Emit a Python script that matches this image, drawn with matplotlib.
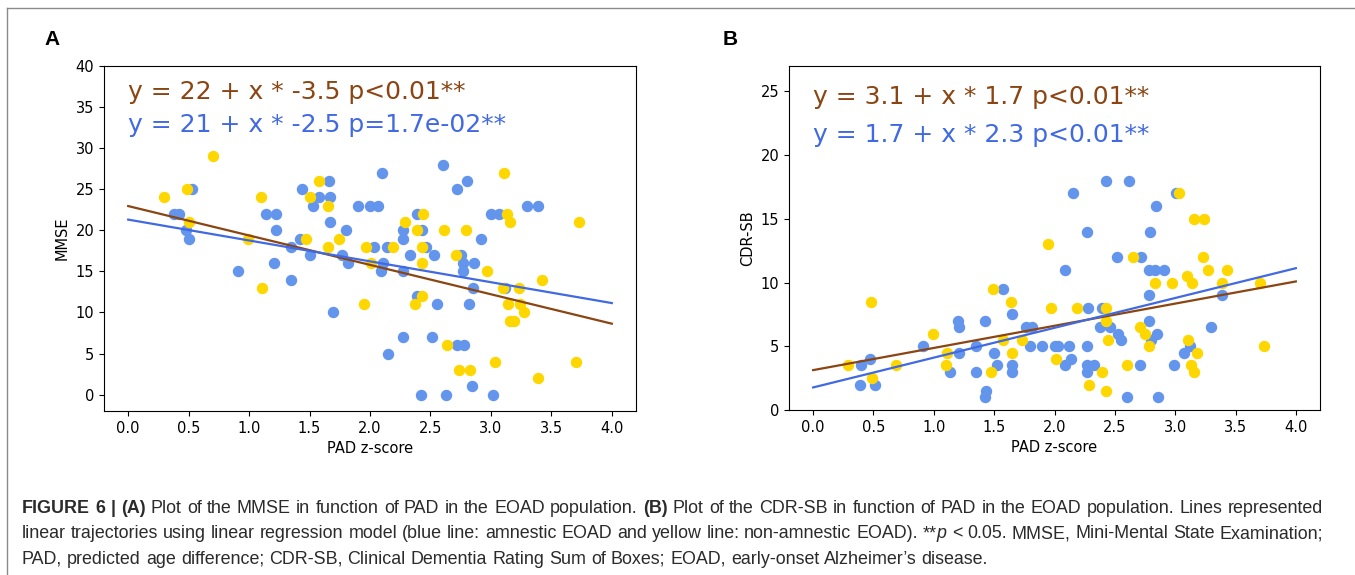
import math
import re
import numpy as np
import matplotlib
matplotlib.use('Agg')
import matplotlib.pyplot as plt
from matplotlib import font_manager
from matplotlib.lines import Line2D

# panel A: PAD z-score vs MMSE
a_amn_x = [0.38, 0.42, 0.53, 0.48, 0.50, 1.14, 1.22, 1.22, 1.21, 0.91, 1.35, 1.35, 1.42, 1.44,
           1.50, 1.53, 1.58, 1.66, 1.67, 1.67, 1.69, 1.77, 1.80, 1.82, 1.90, 2.00, 2.07, 2.03,
           2.14, 2.10, 2.11, 2.09, 2.15, 2.27, 2.27, 2.27, 2.27, 2.33, 2.39, 2.43, 2.39, 2.46,
           2.42, 2.51, 2.53, 2.55, 2.60, 2.63, 2.72, 2.80, 2.75, 2.77, 2.86, 2.77, 2.72, 2.78,
           2.82, 2.85, 2.84, 2.92, 3.00, 3.07, 3.12, 3.02, 3.30, 3.39]
a_amn_y = [22, 22, 25, 20, 19, 22, 22, 20, 16, 15, 14, 18, 19, 25,
           17, 23, 24, 26, 24, 21, 10, 17, 20, 16, 23, 23, 23, 18,
           18, 27, 16, 15, 5, 20, 19, 15, 7, 17, 22, 20, 12, 18,
           0, 7, 17, 11, 28, 0, 25, 26, 17, 16, 16, 15, 6, 6,
           11, 13, 1, 19, 22, 22, 13, 0, 23, 23]
a_non_x = [0.30, 0.49, 0.70, 0.50, 0.99, 1.10, 1.11, 1.47, 1.50, 1.58, 1.65, 1.65, 1.74, 1.95,
           1.97, 2.01, 2.19, 2.29, 2.37, 2.39, 2.44, 2.43, 2.43, 2.43, 2.61, 2.64, 2.71, 2.74,
           2.79, 2.83, 2.97, 3.03, 3.11, 3.10, 3.13, 3.14, 3.16, 3.16, 3.19, 3.23, 3.24, 3.27,
           3.39, 3.42, 3.70, 3.73]
a_non_y = [24, 25, 29, 21, 19, 24, 13, 19, 24, 26, 23, 18, 19, 11,
           18, 16, 18, 21, 11, 20, 22, 18, 16, 12, 20, 6, 17, 3,
           20, 3, 15, 4, 27, 13, 22, 11, 21, 9, 9, 13, 11, 10,
           2, 14, 4, 21]

# panel B: PAD z-score vs CDR-SB
b_amn_x = [0.40, 0.47, 0.39, 0.51, 0.91, 1.13, 1.20, 1.21, 1.21, 1.35, 1.35, 1.42, 1.43, 1.42,
           1.57, 1.50, 1.52, 1.65, 1.65, 1.65, 1.76, 1.81, 1.80, 1.90, 2.00, 2.03, 2.12, 2.14,
           2.09, 2.09, 2.15, 2.27, 2.27, 2.28, 2.27, 2.33, 2.27, 2.38, 2.46, 2.39, 2.43, 2.62,
           2.52, 2.53, 2.55, 2.60, 2.71, 2.72, 2.78, 2.83, 2.91, 2.79, 2.84, 2.78, 2.78, 2.85,
           2.80, 2.86, 2.99, 3.01, 3.07, 3.12, 3.30, 3.39]
b_amn_y = [3.5, 4.0, 2.0, 2.0, 5.0, 3.0, 7.0, 6.5, 4.5, 5.0, 3.0, 7.0, 1.5, 1.0,
           9.5, 4.5, 3.5, 7.5, 3.5, 3.0, 6.5, 6.5, 5.0, 5.0, 5.0, 5.0, 5.0, 4.0,
           3.5, 11.0, 17.0, 14.0, 5.0, 8.0, 3.5, 3.5, 3.0, 6.5, 6.5, 8.0, 18.0, 18.0,
           12.0, 6.0, 5.5, 1.0, 3.5, 12.0, 11.0, 11.0, 11.0, 14.0, 16.0, 9.0, 7.0, 6.0,
           5.5, 1.0, 3.5, 17.0, 4.5, 5.0, 6.5, 9.0]
b_non_x = [0.29, 0.49, 0.48, 0.69, 0.99, 1.11, 1.10, 1.47, 1.49, 1.57, 1.64, 1.65, 1.73, 1.95,
           1.97, 2.01, 2.19, 2.29, 2.39, 2.43, 2.43, 2.44, 2.43, 2.60, 2.65, 2.71, 2.75, 2.78,
           2.83, 2.97, 3.03, 3.10, 3.14, 3.11, 3.18, 3.13, 3.16, 3.16, 3.24, 3.23, 3.27, 3.43,
           3.39, 3.70, 3.74]
b_non_y = [3.5, 2.5, 8.5, 3.5, 6.0, 4.5, 3.5, 3.0, 9.5, 5.5, 8.5, 4.5, 5.5, 13.0,
           8.0, 4.0, 8.0, 2.0, 3.0, 8.0, 7.0, 5.5, 1.5, 3.5, 12.0, 6.5, 6.0, 5.0,
           10.0, 10.0, 17.0, 10.5, 10.0, 5.5, 4.5, 3.5, 3.0, 15.0, 15.0, 12.0, 11.0, 11.0,
           10.0, 10.0, 5.0]

# linear fits (intercept, slope) and p-value text
fit_a_non = (22.95, -3.58)
fit_a_amn = (21.3, -2.54)
fit_b_non = (3.13, 1.74)
fit_b_amn = (1.77, 2.34)
p_a_non = 'p<0.01**'
p_a_amn = 'p=1.7e-02**'
p_b_non = 'p<0.01**'
p_b_amn = 'p<0.01**'

caption = [
    '[b]FIGURE 6 | (A)[/b] Plot of the MMSE in function of PAD in the EOAD population. '
    '[b](B)[/b] Plot of the CDR-SB in function of PAD in the EOAD population. Lines represented',
    'linear trajectories using linear regression model (blue line: amnestic EOAD and yellow line: '
    'non-amnestic EOAD). **[i]p[/i] < 0.05. MMSE, Mini-Mental State Examination;',
    'PAD, predicted age difference; CDR-SB, Clinical Dementia Rating Sum of Boxes; EOAD, '
    'early-onset Alzheimer\u2019s disease.',
]

W, H = 1355, 575


def trunc2(v):
    # two significant digits, cut rather than rounded
    d = 1 - int(math.floor(math.log10(abs(v))))
    f = 10 ** d
    return f"{int(v * f) / f:g}"


def panel(ax, amn_x, amn_y, non_x, non_y, fit_non, fit_amn, p_non, p_amn, ylabel, ylim, yticks, text_y):
    ax.scatter(amn_x, amn_y, s=52, color='cornflowerblue')
    ax.scatter(non_x, non_y, s=52, color='gold')
    xs = np.array([0.0, 4.0])
    ax.plot(xs, fit_non[0] + fit_non[1] * xs, color='saddlebrown', lw=1.6)
    ax.plot(xs, fit_amn[0] + fit_amn[1] * xs, color='royalblue', lw=1.6)
    ax.text(0, text_y[0], f"y = {trunc2(fit_non[0])} + x * {trunc2(fit_non[1])} {p_non}",
            color='saddlebrown', fontsize=18)
    ax.text(0, text_y[1], f"y = {trunc2(fit_amn[0])} + x * {trunc2(fit_amn[1])} {p_amn}",
            color='royalblue', fontsize=18)
    ax.set_xlim(-0.2, 4.2)
    ax.set_ylim(ylim)
    ax.set_xticks(np.arange(0, 4.01, 0.5))
    ax.set_yticks(yticks)
    ax.tick_params(labelsize=10.5)
    ax.set_xlabel('PAD z-score', fontsize=10.5)
    ax.set_ylabel(ylabel, fontsize=10.5)


fig = plt.figure(figsize=(W / 100, H / 100), dpi=100)
ax_a = fig.add_axes([104 / W, 1 - 411 / H, 532 / W, 345 / H])
ax_b = fig.add_axes([789 / W, 1 - 410 / H, 531 / W, 344 / H])

panel(ax_a, a_amn_x, a_amn_y, a_non_x, a_non_y, fit_a_non, fit_a_amn, p_a_non, p_a_amn,
      'MMSE', (-2, 40), range(0, 41, 5), (36, 32))
panel(ax_b, b_amn_x, b_amn_y, b_non_x, b_non_y, fit_b_non, fit_b_amn, p_b_non, p_b_amn,
      'CDR-SB', (0, 27), range(0, 26, 5), (24, 21))

fig.text(44 / W, 1 - 45 / H, 'A', fontsize=15, fontweight='bold', family='Liberation Sans')
fig.text(723 / W, 1 - 45 / H, 'B', fontsize=15, fontweight='bold', family='Liberation Sans')

# page frame
fig.add_artist(Line2D([7 / W, 7 / W], [0, 1 - 8 / H], transform=fig.transFigure, color='#8a8a8a', lw=1))
fig.add_artist(Line2D([7 / W, 1], [1 - 8 / H, 1 - 8 / H], transform=fig.transFigure, color='#8a8a8a', lw=1))

# caption, justified like a journal page
try:
    font_manager.findfont(font_manager.FontProperties(family='Liberation Sans Narrow'),
                          fallback_to_default=False)
    cap_family = 'Liberation Sans Narrow'
except ValueError:
    cap_family = 'Liberation Sans'

styles = {'r': dict(), 'b': dict(fontweight='bold'), 'i': dict(fontstyle='italic')}


def words_of(markup):
    words = [[]]
    for m in re.finditer(r'\[(b|i)\](.*?)\[/\1\]|([^\[]+)', markup):
        style = m.group(1) or 'r'
        text = m.group(2) if m.group(1) else m.group(3)
        for k, part in enumerate(text.split(' ')):
            if k > 0:
                words.append([])
            if part:
                words[-1].append((part, style))
    return [w for w in words if w]


renderer = fig.canvas.get_renderer()


def width_of(text, size, style):
    t = fig.text(0, 0, text, fontsize=size, family=cap_family, **styles[style])
    w = t.get_window_extent(renderer).width
    t.remove()
    return w


x0, x1 = 22, 1323
space10 = width_of('a a', 10, 'r') - width_of('aa', 10, 'r')
cap_size = 99.0
for line in caption[:2]:
    words = words_of(line)
    natural = sum(width_of(p, 10, s) for w in words for p, s in w) + space10 * (len(words) - 1)
    cap_size = min(cap_size, 10 * (x1 - x0) / natural)
space = width_of('a a', cap_size, 'r') - width_of('aa', cap_size, 'r')

for i, line in enumerate(caption):
    words = words_of(line)
    widths = [[width_of(p, cap_size, s) for p, s in w] for w in words]
    total = sum(sum(w) for w in widths)
    gap = (x1 - x0 - total) / (len(words) - 1) if i < len(caption) - 1 else space
    x = x0
    y = 1 - (513 + 25.5 * i) / H
    for w, ws in zip(words, widths):
        for (p, s), pw in zip(w, ws):
            fig.text(x / W, y, p, fontsize=cap_size, family=cap_family, color='#2b2b2b', **styles[s])
            x += pw
        x += gap

fig.savefig('out.png', dpi=100)
